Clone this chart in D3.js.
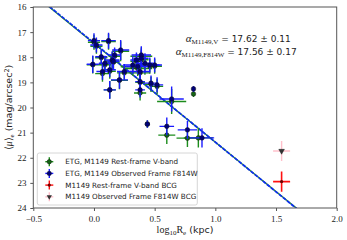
<!DOCTYPE html>
<html>
<head>
<meta charset="utf-8">
<script src="https://cdn.jsdelivr.net/npm/d3@7"></script>
<style>
  body { margin: 0; background: #fff; }
  text { fill: #222; }
</style>
</head>
<body>
<div id="chart"></div>
<script>
var fullwidth = 347;
var fullheight = 240;

// ETG values (log10 Re, mean surface brightness)
var logRe     = [0.00, 0.02, 0.12, -0.01, 0.06, 0.09, 0.07, 0.13, 0.15, 0.17, 0.13, 0.21, 0.22, 0.16, 0.39, 0.32, 0.25, 0.47, 0.52, 0.38, 0.38, 0.64, 0.82, 0.44, 0.60, 0.77, 0.89, 0.35, 0.39, 0.42, 0.46, 0.50, 0.36, 0.38];
var muF814W   = [17.34, 17.51, 17.34, 18.28, 17.98, 18.24, 18.57, 18.50, 18.11, 17.91, 19.30, 18.90, 17.71, 18.17, 17.91, 18.31, 18.57, 19.03, 19.10, 19.30, 18.97, 19.66, 19.26, 20.66, 20.75, 20.89, 21.21, 18.11, 18.04, 18.24, 18.31, 18.31, 18.37, 18.57];
var muV       = [17.40, 17.56, 17.38, 18.30, 18.02, 18.30, 18.65, 18.56, 18.15, 17.96, 19.30, 18.92, 17.76, 18.20, 17.96, 18.38, 18.62, 19.08, 19.16, 19.42, 19.00, 19.76, 19.46, 20.66, 21.10, 21.22, 21.21, 18.16, 18.10, 18.30, 18.36, 18.36, 18.45, 18.62];
var logReV    = [0.00, 0.02, 0.12, -0.01, 0.06, 0.09, 0.07, 0.13, 0.15, 0.17, 0.13, 0.21, 0.22, 0.16, 0.39, 0.32, 0.25, 0.47, 0.52, 0.38, 0.38, 0.64, 0.82, 0.44, 0.60, 0.77, 0.86, 0.35, 0.39, 0.42, 0.46, 0.50, 0.36, 0.38];
var xErrF814W = [0.05, 0.05, 0.06, 0.05, 0.05, 0.05, 0.05, 0.05, 0.06, 0.05, 0.05, 0.07, 0.07, 0.05, 0.08, 0.08, 0.06, 0.05, 0.05, 0.04, 0.04, 0.10, 0.01, 0.02, 0.06, 0.08, 0.10, 0.05, 0.06, 0.07, 0.08, 0.06, 0.10, 0.08];
var xErrV     = [0.05, 0.05, 0.06, 0.05, 0.05, 0.05, 0.06, 0.05, 0.06, 0.05, 0.05, 0.07, 0.07, 0.05, 0.09, 0.10, 0.06, 0.05, 0.05, 0.05, 0.04, 0.12, 0.01, 0.02, 0.07, 0.09, 0.12, 0.05, 0.06, 0.08, 0.08, 0.06, 0.12, 0.08];
var yErrF814W = [0.30, 0.30, 0.32, 0.35, 0.30, 0.30, 0.33, 0.30, 0.35, 0.30, 0.35, 0.35, 0.40, 0.30, 0.35, 0.35, 0.30, 0.30, 0.30, 0.30, 0.30, 0.50, 0.12, 0.15, 0.35, 0.35, 0.38, 0.30, 0.35, 0.40, 0.30, 0.30, 0.30, 0.30];
var yErrV     = [0.30, 0.30, 0.32, 0.35, 0.30, 0.30, 0.33, 0.30, 0.35, 0.30, 0.35, 0.35, 0.40, 0.30, 0.35, 0.35, 0.30, 0.30, 0.30, 0.30, 0.30, 0.50, 0.12, 0.15, 0.35, 0.35, 0.38, 0.30, 0.35, 0.40, 0.30, 0.30, 0.30, 0.30];

// BCG
var bcgLogRe = [1.546];
var bcgMuV = [22.95];
var bcgMuF814W = [21.73];
var bcgXErr = [0.07];
var bcgYErr = [0.40];

// fits
var fitX = [-0.5, 2.0];
var fitIntercept = {V: 17.45, F814W: 17.43};
var fitSlope = {V: 3.93, F814W: 3.95};

var xTicks = [-0.5, 0.0, 0.5, 1.0, 1.5, 2.0];
var yTicks = [16, 17, 18, 19, 20, 21, 22, 23, 24];

var margin = {top: 7, right: 10.3, bottom: 32, left: 33.3};
var width = fullwidth - margin.left - margin.right;
var height = fullheight - margin.top - margin.bottom;

var svg = d3.select("#chart").append("svg")
    .attr("width", fullwidth)
    .attr("height", fullheight)
    .append("g")
    .attr("transform", "translate(" + margin.left + "," + margin.top + ")");

var xScale = d3.scaleLinear().domain([-0.5, 2.0]).range([0, width]);
var yScale = d3.scaleLinear().domain([16, 24]).range([0, height]);

svg.append("clipPath").attr("id", "clip")
    .append("rect").attr("width", width).attr("height", height);

// axes
var xAxis = d3.axisBottom(xScale).tickValues(xTicks).tickSize(3)
    .tickFormat(function(d) { return d < 0 ? "\u2212" + d3.format(".1f")(-d) : d3.format(".1f")(d); });
var yAxis = d3.axisLeft(yScale).tickValues(yTicks).tickSize(3).tickFormat(d3.format("d"));

var gx = svg.append("g").attr("transform", "translate(0," + height + ")").call(xAxis);
var gy = svg.append("g").call(yAxis);
[gx, gy].forEach(function(g) {
    g.select(".domain").remove();
    g.selectAll("line").attr("stroke", "#555");
    g.selectAll("text").attr("font-family", "Liberation Serif").attr("font-size", 9).attr("fill", "#222");
});
gx.selectAll("text").attr("dy", "0.9em");
gy.selectAll("text").attr("dx", "-0.1em");

// fit lines
var plot = svg.append("g").attr("clip-path", "url(#clip)");

plot.append("line")
    .attr("x1", xScale(fitX[0])).attr("x2", xScale(fitX[1]))
    .attr("y1", yScale(fitIntercept.V + fitSlope.V * fitX[0]))
    .attr("y2", yScale(fitIntercept.V + fitSlope.V * fitX[1]))
    .attr("stroke", "#2a8a2a").attr("stroke-width", 1.3);

plot.append("line")
    .attr("x1", xScale(fitX[0])).attr("x2", xScale(fitX[1]))
    .attr("y1", yScale(fitIntercept.F814W + fitSlope.F814W * fitX[0]))
    .attr("y2", yScale(fitIntercept.F814W + fitSlope.F814W * fitX[1]))
    .attr("stroke", "#0a2ef0").attr("stroke-width", 1.7).attr("stroke-dasharray", "4,1.2");

function errorbars(g, xs, ys, xe, ye, col, fill, sw) {
    var data = d3.range(xs.length).map(function(i) {
        return {x: xs[i], y: ys[i], xe: xe[i], ye: ye[i]};
    });
    var grp = g.append("g");
    grp.selectAll("line.h").data(data).enter().append("line")
        .attr("x1", function(d) { return xScale(d.x - d.xe); })
        .attr("x2", function(d) { return xScale(d.x + d.xe); })
        .attr("y1", function(d) { return yScale(d.y); })
        .attr("y2", function(d) { return yScale(d.y); })
        .attr("stroke", col).attr("stroke-width", sw);
    grp.selectAll("line.v").data(data).enter().append("line")
        .attr("x1", function(d) { return xScale(d.x); })
        .attr("x2", function(d) { return xScale(d.x); })
        .attr("y1", function(d) { return yScale(d.y - d.ye); })
        .attr("y2", function(d) { return yScale(d.y + d.ye); })
        .attr("stroke", col).attr("stroke-width", sw);
    if (fill) {
        grp.selectAll("circle").data(data).enter().append("circle")
            .attr("cx", function(d) { return xScale(d.x); })
            .attr("cy", function(d) { return yScale(d.y); })
            .attr("r", 2.3)
            .attr("fill", fill).attr("stroke", "#111").attr("stroke-width", 0.5);
    }
    return data;
}

errorbars(plot, logReV, muV, xErrV, yErrV, "#1c8c1c", "#146414", 1.4);
errorbars(plot, logRe, muF814W, xErrF814W, yErrF814W, "#1a1aff", "#00007a", 1.4);

// BCG points
errorbars(plot, bcgLogRe, bcgMuF814W, bcgXErr, bcgYErr, "#ffc0cb", null, 1.4);
plot.append("path")
    .attr("d", d3.symbol(d3.symbolTriangle, 14)())
    .attr("transform", "translate(" + xScale(bcgLogRe[0]) + "," + yScale(bcgMuF814W[0]) + ") rotate(180)")
    .attr("fill", "#333").attr("stroke", "#111").attr("stroke-width", 0.4);
errorbars(plot, bcgLogRe, bcgMuV, bcgXErr, bcgYErr, "#ff1010", null, 1.6);
plot.append("circle")
    .attr("cx", xScale(bcgLogRe[0])).attr("cy", yScale(bcgMuV[0])).attr("r", 1.6)
    .attr("fill", "#6a0000");

// frame
svg.append("rect").attr("width", width).attr("height", height)
    .attr("fill", "none").attr("stroke", "#555").attr("stroke-width", 1);

// legend
var legendLabels = ["ETG, M1149 Rest-frame V-band", "ETG, M1149 Observed Frame F814W",
                    "M1149 Rest-frame V-band BCG", "M1149 Observed Frame F814W BCG"];
var legendBar = ["#1c8c1c", "#1a1aff", "#ff1010", "#ffc0cb"];
var legendDot = ["#146414", "#00007a", "#6a0000", "#333"];

var lg = svg.append("g").attr("transform", "translate(4,146)");
lg.append("rect").attr("width", 160).attr("height", 52).attr("rx", 2)
    .attr("fill", "#fff").attr("fill-opacity", 0.85).attr("stroke", "#ccc").attr("stroke-width", 0.8);
legendLabels.forEach(function(t, i) {
    var cy = 8.7 + i * 11.7;
    var cx = 12;
    lg.append("line").attr("x1", cx - 4).attr("x2", cx + 4).attr("y1", cy).attr("y2", cy)
        .attr("stroke", legendBar[i]).attr("stroke-width", 1.4);
    lg.append("line").attr("x1", cx).attr("x2", cx).attr("y1", cy - 4.5).attr("y2", cy + 4.5)
        .attr("stroke", legendBar[i]).attr("stroke-width", 1.4);
    if (i == 3) {
        lg.append("path").attr("d", d3.symbol(d3.symbolTriangle, 12)())
            .attr("transform", "translate(" + cx + "," + cy + ") rotate(180)")
            .attr("fill", legendDot[i]);
    } else {
        lg.append("circle").attr("cx", cx).attr("cy", cy).attr("r", i == 2 ? 1.6 : 2.2)
            .attr("fill", legendDot[i]).attr("stroke", "#111").attr("stroke-width", i == 2 ? 0 : 0.5);
    }
    lg.append("text").attr("x", 28).attr("y", cy).attr("dy", "0.35em")
        .attr("font-family", "DejaVu Sans").attr("font-size", 7.2).text(t);
});

// annotation
function alphaLabel(y, x, sub, val) {
    var t = svg.append("text").attr("x", x).attr("y", y).attr("font-size", 9);
    t.append("tspan").attr("font-family", "Liberation Serif").attr("font-style", "italic")
        .attr("font-size", 11).text("\u03b1");
    t.append("tspan").attr("font-family", "Liberation Serif").attr("font-size", 7)
        .attr("dy", 2).text(sub);
    t.append("tspan").attr("font-family", "DejaVu Sans").attr("dy", -2).text(" = " + val);
}
alphaLabel(35, 152.5, "M1149,V", "17.62 \u00b1 0.11");
alphaLabel(48, 142.5, "M1149,F814W", "17.56 \u00b1 0.17");

// axis labels
var xl = svg.append("text").attr("x", width / 2).attr("y", height + 25)
    .attr("text-anchor", "middle").attr("font-size", 10);
xl.append("tspan").attr("font-family", "Liberation Serif").text("log");
xl.append("tspan").attr("font-family", "Liberation Serif").attr("font-size", 7).attr("dy", 2).text("10");
xl.append("tspan").attr("font-family", "Liberation Serif").attr("dy", -2).text("R");
xl.append("tspan").attr("font-family", "Liberation Serif").attr("font-size", 7).attr("dy", 2).text("e");
xl.append("tspan").attr("font-family", "DejaVu Sans").attr("font-size", 9.5).attr("dy", -2).text(" (kpc)");

var yl = svg.append("text").attr("transform", "translate(-21," + (height / 2) + ") rotate(-90)")
    .attr("text-anchor", "middle").attr("font-size", 9.5);
yl.append("tspan").attr("font-family", "Liberation Serif").text("\u27e8");
yl.append("tspan").attr("font-family", "Liberation Serif").attr("font-style", "italic").text("\u03bc");
yl.append("tspan").attr("font-family", "Liberation Serif").text("\u27e9");
yl.append("tspan").attr("font-family", "Liberation Serif").attr("font-size", 7).attr("dy", 2).text("e");
yl.append("tspan").attr("font-family", "DejaVu Sans").attr("dy", -2).text(" (mag/arcsec");
yl.append("tspan").attr("font-family", "DejaVu Sans").attr("font-size", 6.5).attr("dy", -3).text("2");
yl.append("tspan").attr("font-family", "DejaVu Sans").attr("dy", 3).text(")");
</script>
</body>
</html>
